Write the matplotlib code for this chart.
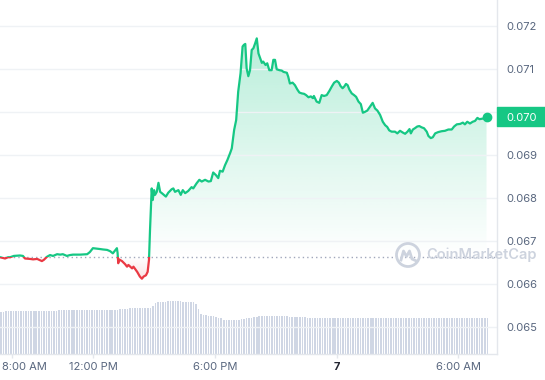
import numpy as np
import matplotlib
matplotlib.use("Agg")
import matplotlib.pyplot as plt
from matplotlib.colors import to_rgb
from matplotlib.lines import Line2D
from matplotlib.patches import Circle, Polygon, Rectangle
from matplotlib.transforms import blended_transform_factory

plt.rcParams["font.family"] = ["Inter", "DejaVu Sans"]

# --- data -------------------------------------------------------------------
start_time = "07:24"          # first sample of the 24h window

# minutes after start_time
minutes = [
    0, 15, 24, 30, 41, 59, 68, 74, 89, 98, 110, 124, 130, 139, 148, 157, 169,
    178, 186, 198, 207, 216, 237, 258, 266, 275, 287, 296, 305, 317, 326, 334,
    340, 346, 348, 350, 352, 361, 370, 376, 380, 391, 395, 406, 414, 420, 425,
    432, 437, 441, 444, 449, 452, 456, 459, 464, 469, 474, 479, 485, 491, 498,
    508, 513, 518, 528, 535, 541, 548, 557, 567, 572, 582, 590, 597, 607, 617,
    624, 631, 639, 646, 651, 659, 666, 673, 681, 686, 693, 699, 705, 712, 718,
    722, 726, 730, 735, 740, 745, 750, 755, 760, 765, 770, 775, 779, 786, 791,
    797, 804, 809, 814, 819, 827, 834, 839, 849, 853, 858, 866, 873, 880, 886,
    893, 900, 906, 913, 920, 926, 929, 937, 945, 952, 959, 967, 975, 982, 989,
    997, 1003, 1008, 1014, 1019, 1024, 1029, 1034, 1041, 1048, 1054, 1061,
    1068, 1074, 1080, 1087, 1095, 1103, 1110, 1117, 1125, 1133, 1140, 1146,
    1152, 1159, 1169, 1176, 1184, 1192, 1199, 1206, 1212, 1216, 1222, 1228,
    1235, 1241, 1248, 1255, 1263, 1268, 1275, 1281, 1288, 1297, 1307, 1317,
    1327, 1337, 1344, 1352, 1362, 1370, 1376, 1383, 1391, 1399, 1406, 1413,
    1419, 1426, 1433, 1440,
]

price = [
    0.06663, 0.06660, 0.06663, 0.06663, 0.06666, 0.06667, 0.06666, 0.06660,
    0.06659, 0.06658, 0.06659, 0.06654, 0.06657, 0.06664, 0.06668, 0.06666,
    0.06670, 0.06669, 0.06670, 0.06666, 0.06668, 0.06669, 0.06669, 0.06670,
    0.06675, 0.06684, 0.06683, 0.06682, 0.06681, 0.06680, 0.06677, 0.06672,
    0.06678, 0.06684, 0.06673, 0.06649, 0.06658, 0.06654, 0.06647, 0.06641,
    0.06645, 0.06637, 0.06641, 0.06629, 0.06618, 0.06613, 0.06618, 0.06621,
    0.06629, 0.06657, 0.06726, 0.06823, 0.06796, 0.06819, 0.06808, 0.06815,
    0.06836, 0.06815, 0.06812, 0.06808, 0.06804, 0.06813, 0.06821, 0.06823,
    0.06815, 0.06819, 0.06808, 0.06819, 0.06812, 0.06817, 0.06826, 0.06823,
    0.06835, 0.06843, 0.06839, 0.06843, 0.06839, 0.06840, 0.06860, 0.06854,
    0.06847, 0.06864, 0.06862, 0.06877, 0.06889, 0.06905, 0.06916, 0.06959,
    0.06982, 0.07048, 0.07091, 0.07153, 0.07157, 0.07159, 0.07102, 0.07084,
    0.07098, 0.07145, 0.07149, 0.07160, 0.07172, 0.07137, 0.07126, 0.07115,
    0.07118, 0.07110, 0.07114, 0.07098, 0.07098, 0.07122, 0.07122, 0.07100,
    0.07098, 0.07097, 0.07094, 0.07092, 0.07083, 0.07067, 0.07069, 0.07063,
    0.07053, 0.07046, 0.07044, 0.07043, 0.07040, 0.07035, 0.07037, 0.07033,
    0.07038, 0.07025, 0.07022, 0.07040, 0.07038, 0.07040, 0.07050, 0.07060,
    0.07069, 0.07073, 0.07069, 0.07061, 0.07056, 0.07060, 0.07066, 0.07063,
    0.07053, 0.07044, 0.07040, 0.07036, 0.07025, 0.07019, 0.06999, 0.07001,
    0.07004, 0.07013, 0.07022, 0.07009, 0.07004, 0.06994, 0.06978, 0.06970,
    0.06966, 0.06958, 0.06955, 0.06955, 0.06951, 0.06957, 0.06953, 0.06950,
    0.06955, 0.06961, 0.06951, 0.06960, 0.06963, 0.06967, 0.06968, 0.06965,
    0.06963, 0.06955, 0.06945, 0.06940, 0.06942, 0.06951, 0.06954, 0.06956,
    0.06957, 0.06960, 0.06960, 0.06967, 0.06972, 0.06973, 0.06976, 0.06972,
    0.06978, 0.06974, 0.06978, 0.06980, 0.06987, 0.06984, 0.06985, 0.06986,
    0.06990,
]

# 24h volume, one bar every 7.5 minutes (millions USD)
volume_step = 7.5
volume = [
    4.2, 4.2, 4.3, 4.3, 4.3, 4.3, 4.3, 4.3, 4.3, 4.3, 4.3, 4.3,
    4.3, 4.3, 4.3, 4.3, 4.3, 4.3, 4.3, 4.3, 4.3, 4.3, 4.3, 4.4,
    4.4, 4.4, 4.4, 4.4, 4.4, 4.4, 4.4, 4.4, 4.4, 4.4, 4.4, 4.4,
    4.4, 4.4, 4.4, 4.4, 4.4, 4.4, 4.4, 4.4, 4.4, 4.4, 4.4, 4.5,
    4.5, 4.5, 4.5, 4.6, 4.6, 4.6, 4.6, 4.6, 4.6, 4.6, 4.6, 4.6,
    4.8, 5.1, 5.2, 5.2, 5.2, 5.2, 5.3, 5.3, 5.3, 5.3, 5.3, 5.3,
    5.2, 5.2, 5.2, 5.2, 5.2, 5.0, 4.5, 4.0, 3.9, 3.9, 3.8, 3.8,
    3.8, 3.7, 3.6, 3.6, 3.4, 3.4, 3.4, 3.4, 3.4, 3.4, 3.4, 3.5,
    3.5, 3.6, 3.6, 3.6, 3.7, 3.7, 3.8, 3.8, 3.8, 3.8, 3.8, 3.8,
    3.8, 3.8, 3.8, 3.8, 3.8, 3.8, 3.7, 3.7, 3.7, 3.7, 3.7, 3.7,
    3.7, 3.6, 3.6, 3.6, 3.6, 3.6, 3.6, 3.6, 3.6, 3.6, 3.6, 3.6,
    3.6, 3.6, 3.6, 3.6, 3.6, 3.6, 3.6, 3.6, 3.6, 3.6, 3.6, 3.6,
    3.6, 3.6, 3.6, 3.6, 3.6, 3.6, 3.6, 3.6, 3.6, 3.6, 3.6, 3.6,
    3.6, 3.6, 3.6, 3.6, 3.6, 3.6, 3.6, 3.6, 3.6, 3.6, 3.6, 3.6,
    3.6, 3.6, 3.6, 3.6, 3.6, 3.6, 3.6, 3.6, 3.6, 3.6, 3.6, 3.6,
    3.6, 3.6, 3.6, 3.6, 3.6, 3.6, 3.6, 3.6, 3.6, 3.6, 3.6, 3.6,
    3.6,
]

y_ticks = [0.065, 0.066, 0.067, 0.068, 0.069, 0.070, 0.071, 0.072]
x_tick_times = ["08:00", "12:00", "18:00", "00:00", "06:00"]
x_tick_labels = ["8:00 AM", "12:00 PM", "6:00 PM", "7", "6:00 AM"]
last_label = "0.070"

# --- style ------------------------------------------------------------------
GREEN = "#16c784"
RED = "#ea3943"
GRID = "#eff2f5"
EDGE = "#e4e7ec"
TXT = "#58667e"
VOL = "#cfd6e4"
WM = "#cdd3de"

W, H = 545, 380
plot_w, plot_h = 497, 354


def to_min(hhmm):
    h, m = map(int, hhmm.split(":"))
    h0, m0 = map(int, start_time.split(":"))
    return (h * 60 + m - h0 * 60 - m0) % 1440


x = np.array(minutes, dtype=float)
p = np.array(price)
base = p[0]
xlim = (0, 1471)
ylim = (0.064379, 0.072612)

fig = plt.figure(figsize=(W / 100, H / 100), dpi=100)
rect = [0, 1 - plot_h / H, plot_w / W, plot_h / H]

# volume underneath
ax_vol = fig.add_axes(rect)
vx = np.arange(len(volume)) * volume_step
ax_vol.bar(vx, volume, width=volume_step * 0.62, align="edge", color=VOL, linewidth=0)
ax_vol.set_xlim(*xlim)
ax_vol.set_ylim(0, 35.4)
ax_vol.axis("off")

ax = fig.add_axes(rect)
ax.patch.set_visible(False)

# gradient fill between the line and the open price
clip = Polygon(np.column_stack([np.r_[x[0], x, x[-1]], np.r_[base, p, base]]),
               closed=True, transform=ax.transData, fc="none", ec="none")
ax.add_patch(clip)


def gradient(color, alpha_max, lo, hi, strong_top):
    rgba = np.zeros((256, 1, 4))
    rgba[..., :3] = to_rgb(color)
    a = np.linspace(0, 1, 256)
    rgba[:, 0, 3] = alpha_max * (a if strong_top else 1 - a)
    im = ax.imshow(rgba, extent=[x[0], x[-1], lo, hi], origin="lower",
                   aspect="auto", interpolation="bilinear", zorder=1)
    im.set_clip_path(clip)


gradient(GREEN, 0.30, base, p.max(), True)
gradient(RED, 0.15, p.min(), base, False)

# line: green above the open price, red below
above = Rectangle((-100, base), 2000, 1, transform=ax.transData)
below = Rectangle((-100, base - 1), 2000, 1, transform=ax.transData)
lg, = ax.plot(x, p, color=GREEN, lw=1.6, zorder=3, solid_joinstyle="round")
lg.set_clip_path(above)
lr, = ax.plot(x, p, color=RED, lw=1.6, zorder=3, solid_joinstyle="round")
lr.set_clip_path(below)
ax.plot(x[-1], p[-1], "o", color=GREEN, ms=6, zorder=4, clip_on=False)

ax.axhline(base, color="#a1a7bb", lw=1, dashes=(1, 2.2), zorder=2)

ax.set_xlim(*xlim)
ax.set_ylim(*ylim)

# axes, grid, ticks; the 0.070 label sits under the last price tag
ax.set_yticks(y_ticks)
ax.set_yticklabels(["" if f"{v:.3f}" == last_label else f"{v:.3f}" for v in y_ticks])
ax.yaxis.tick_right()
ax.grid(axis="y", color=GRID, lw=1, zorder=0)
ax.tick_params(axis="y", length=0, pad=7, labelsize=8, labelcolor=TXT)

tick_min = [to_min(t) for t in x_tick_times]
ax.set_xticks(tick_min)
ax.set_xticklabels([""] + x_tick_labels[1:])
ax.tick_params(axis="x", length=3, width=1, color=EDGE, pad=3, labelsize=8, labelcolor=TXT)
ax.get_xticklabels()[3].set_fontweight("bold")
ax.get_xticklabels()[3].set_color("#222531")
ax.annotate(x_tick_labels[0], xy=(tick_min[0], 0), xycoords=("data", "axes fraction"),
            xytext=(-7.6, -6), textcoords="offset points", ha="left", va="top",
            fontsize=8, color=TXT)

for s in ("top", "left"):
    ax.spines[s].set_visible(False)
for s in ("right", "bottom"):
    ax.spines[s].set_color(EDGE)
    ax.spines[s].set_linewidth(1)

# last price tag
tr = blended_transform_factory(ax.transAxes, ax.transData)
tag_h = 19 / plot_h * (ylim[1] - ylim[0])
ax.add_patch(Rectangle((1.0, p[-1] - tag_h / 2), (W - plot_w) / plot_w, tag_h,
                       transform=tr, color=GREEN, clip_on=False, zorder=5))
ax.text(1.0 + 9.7 / plot_w, p[-1], last_label, transform=tr, color="white",
        fontsize=8, ha="left", va="center_baseline", zorder=6, clip_on=False)

# watermark
cx, cy = 408 / 100, (H - 255) / 100
fig.add_artist(Circle((cx, cy), 0.115, transform=fig.dpi_scale_trans,
                      fill=False, ec=WM, lw=2.0))
wx = np.array([-0.07, -0.045, -0.015, 0.015, 0.04, 0.085])
wy = np.array([-0.05, 0.04, -0.015, 0.04, -0.04, -0.06])
fig.add_artist(Line2D(cx + wx, cy + wy, transform=fig.dpi_scale_trans,
                      color=WM, lw=2.0, solid_joinstyle="round"))
fig.text(426.7 / W, 1 - 255 / H, "CoinMarketCap", color=WM, fontsize=10.5,
         fontweight="semibold", ha="left", va="center")

fig.savefig("out.png", dpi=100, facecolor="white")
